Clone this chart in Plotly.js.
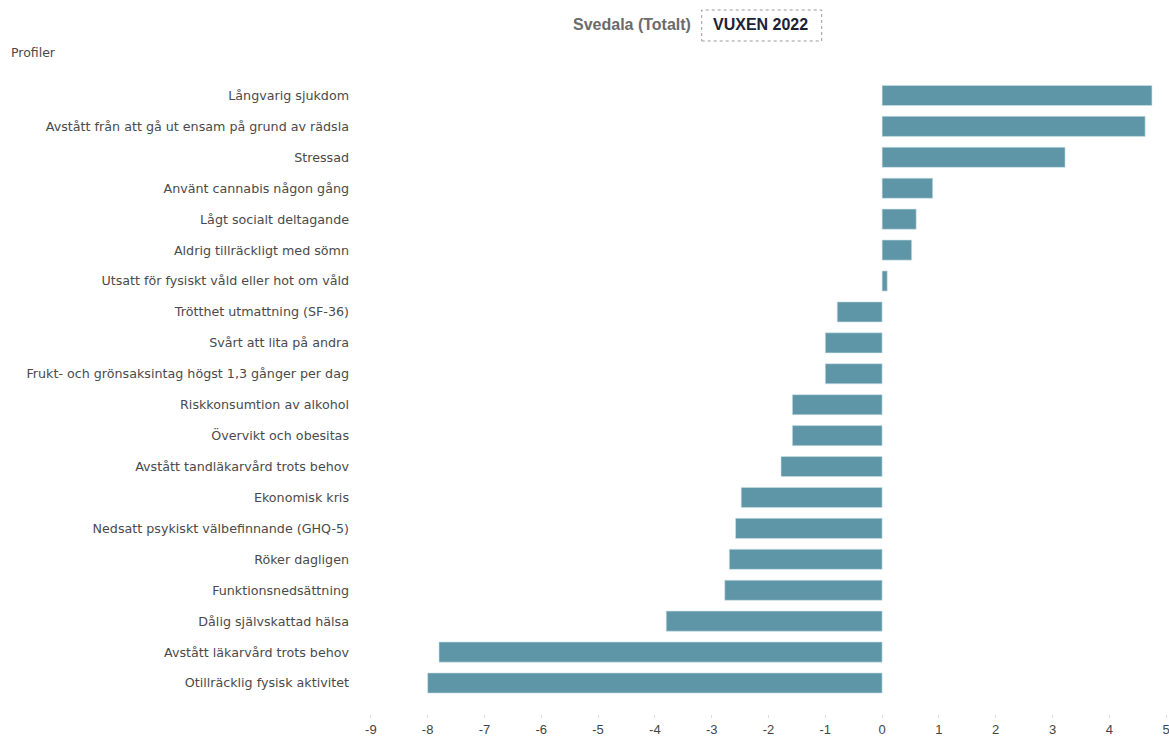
<!DOCTYPE html>
<html>
<head>
<meta charset="utf-8">
<script src="https://cdn.plot.ly/plotly-3.0.1.min.js"></script>
<style>html,body{margin:0;padding:0;background:#fff;}#chart{width:1169px;height:738px;}</style>
</head>
<body>
<div id="chart"></div>
<script>
const categories = [
  "Långvarig sjukdom",
  "Avstått från att gå ut ensam på grund av rädsla",
  "Stressad",
  "Använt cannabis någon gång",
  "Lågt socialt deltagande",
  "Aldrig tillräckligt med sömn",
  "Utsatt för fysiskt våld eller hot om våld",
  "Trötthet utmattning (SF-36)",
  "Svårt att lita på andra",
  "Frukt- och grönsaksintag högst 1,3 gånger per dag",
  "Riskkonsumtion av alkohol",
  "Övervikt och obesitas",
  "Avstått tandläkarvård trots behov",
  "Ekonomisk kris",
  "Nedsatt psykiskt välbefinnande (GHQ-5)",
  "Röker dagligen",
  "Funktionsnedsättning",
  "Dålig självskattad hälsa",
  "Avstått läkarvård trots behov",
  "Otillräcklig fysisk aktivitet"
];
const values = [4.75, 4.63, 3.22, 0.89, 0.60, 0.52, 0.09, -0.79, -1.00, -1.00,
  -1.58, -1.58, -1.78, -2.48, -2.58, -2.69, -2.77, -3.80, -7.80, -8.00];
const tickValues = [-9, -8, -7, -6, -5, -4, -3, -2, -1, 0, 1, 2, 3, 4, 5];
const tickLabels = ["-9", "-8", "-7", "-6", "-5", "-4", "-3", "-2", "-1", "0", "1", "2", "3", "4", "5"];
const titleMain = "Svedala (Totalt)";
const titleTag = "VUXEN 2022";
const sideLabel = "Profiler";

const barColor = "#5e96a8";
const titleFont = "Liberation Sans, Arial, sans-serif";
const labelFont = "DejaVu Sans, Verdana, sans-serif";
const tickFont = "Liberation Sans Narrow, Liberation Sans, Arial, sans-serif";

const trace = {
  type: "bar",
  orientation: "h",
  x: values,
  y: categories,
  marker: {color: barColor, line: {color: "#cfe0e6", width: 0.6}},
  hoverinfo: "x+y"
};

// plot area: x 368..1169 (801 px), y 80..714 (634 px)
const layout = {
  width: 1169,
  height: 738,
  margin: {l: 368, r: 0, t: 80, b: 24, pad: 0},
  paper_bgcolor: "#fff",
  plot_bgcolor: "#fff",
  showlegend: false,
  bargap: 0.35,
  font: {family: labelFont, size: 12, color: "#444"},
  xaxis: {
    range: [-9.05, 5.05],
    anchor: "free",
    position: 0,
    tickvals: tickValues,
    ticktext: tickLabels,
    showgrid: false,
    zeroline: false,
    showline: false,
    ticks: "outside",
    ticklen: 3,
    tickcolor: "#dddddd",
    ticklabelstandoff: 0,
    ticklabeloverflow: "allow",
    tickfont: {family: tickFont, size: 13, color: "#444"},
    fixedrange: true
  },
  yaxis: {
    type: "category",
    autorange: "reversed",
    domain: [0.0245, 1],
    showgrid: false,
    zeroline: false,
    showline: false,
    ticks: "",
    ticklabelstandoff: 18,
    tickfont: {family: labelFont, size: 12.7, color: "#4a4a4a"},
    fixedrange: true
  },
  annotations: [
    {xref: "paper", yref: "paper", x: 0.4057, y: 1.0868, xanchor: "right", yanchor: "middle",
     text: "<b>" + titleMain + "</b>", showarrow: false,
     font: {family: titleFont, size: 16, color: "#6b6b6b"}},
    {xref: "paper", yref: "paper", x: 0.4906, y: 1.0868, xanchor: "center", yanchor: "middle",
     text: "<b>" + titleTag + "</b>", showarrow: false,
     font: {family: titleFont, size: 16, color: "#1b2236"}},
    {xref: "paper", yref: "paper", x: -0.4482, y: 1.0426, xanchor: "left", yanchor: "middle",
     text: sideLabel, showarrow: false,
     font: {family: labelFont, size: 12.5, color: "#4a4a4a"}}
  ],
  shapes: [
    {type: "rect", xref: "paper", yref: "paper", x0: 0.4166, x1: 0.5664, y0: 1.0615, y1: 1.1104,
     line: {color: "#999", width: 1, dash: "dot"}, fillcolor: "rgba(0,0,0,0)"}
  ]
};

Plotly.newPlot("chart", [trace], layout, {displayModeBar: false, staticPlot: true});
</script>
</body>
</html>
